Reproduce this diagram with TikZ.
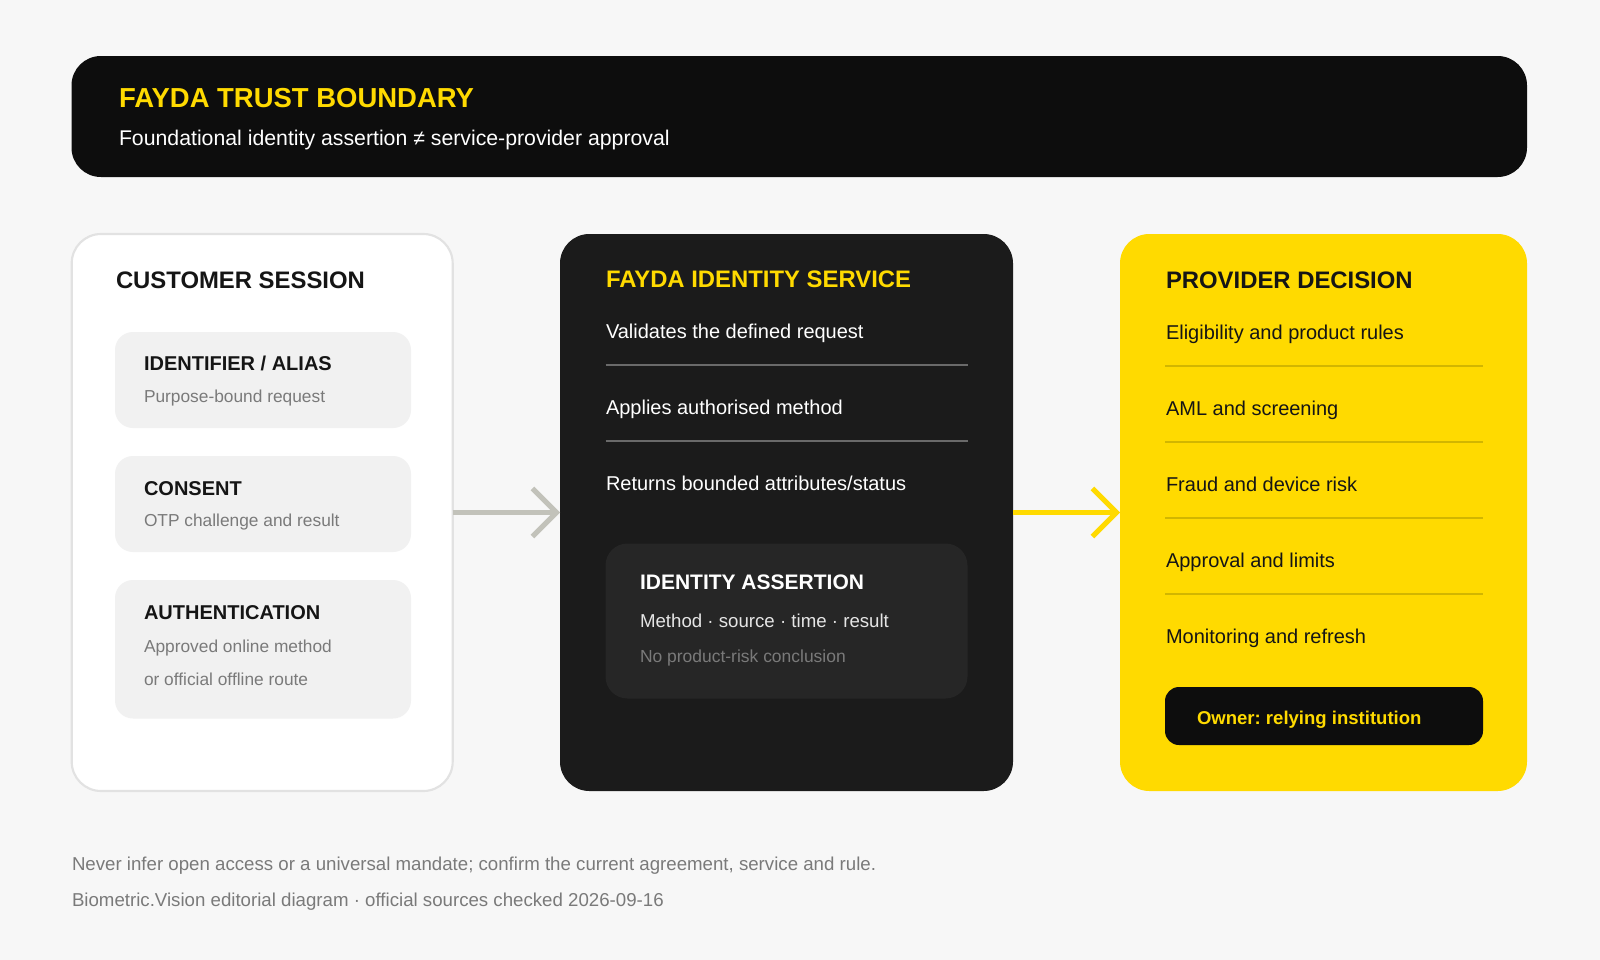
\documentclass[tikz,border=0pt]{standalone}
\usepackage{fontspec}
\setmainfont{Liberation Sans}
\usetikzlibrary{arrows.meta}
\frenchspacing

\definecolor{pagebg}{HTML}{F7F7F7}
\definecolor{inkblack}{HTML}{0D0D0D}
\definecolor{faydayellow}{HTML}{FFDA00}
\definecolor{servicedark}{HTML}{1B1B1B}
\definecolor{assertdark}{HTML}{262626}
\definecolor{stepgray}{HTML}{F1F1F1}
\definecolor{cardline}{HTML}{E2E2E2}
\definecolor{softtext}{HTML}{7A7A7A}
\definecolor{darktext}{HTML}{151515}
\definecolor{ruledark}{HTML}{6A6A6A}
\definecolor{ruleyellow}{HTML}{D2B600}
\definecolor{arrowgray}{HTML}{C2C2BA}

\newcommand{\pxu}{0.75pt}

\tikzset{
  box/.style={anchor=north west, inner sep=0pt, outer sep=0pt},
  txt/.style={anchor=base west, inner sep=0pt, outer sep=0pt},
  headline/.style={txt, font=\fontsize{20.6}{24}\selectfont\bfseries},
  cardtitle/.style={txt, font=\fontsize{17.9}{21}\selectfont\bfseries},
  itemtext/.style={txt, font=\fontsize{15}{18}\selectfont},
  steptitle/.style={txt, text=darktext, font=\fontsize{15}{18}\selectfont\bfseries},
  stepnote/.style={txt, text=softtext, font=\fontsize{13}{15}\selectfont},
  footnote/.style={txt, text=softtext, font=\fontsize{14}{16}\selectfont},
  stepbox/.style={box, fill=stepgray, rounded corners=13.5pt, minimum width=296*\pxu},
  flow/.style={line width=3.75pt, -{Straight Barb[length=18pt, width=36pt]}}
}

\begin{document}
\begin{tikzpicture}[x=\pxu, y=-\pxu]
        % page
        \fill[pagebg] (0,0) rectangle (1600,960);

        % trust boundary banner
        \node[box, fill=inkblack, rounded corners=22pt, minimum width=1455.5*\pxu, minimum height=121*\pxu] (banner) at (71.5,56) {};
        \node[headline, text=faydayellow] (bannertitle) at (119,107.7) {FAYDA TRUST BOUNDARY};
        \node[txt, text=white, font=\fontsize{15.95}{19}\selectfont] (bannersub) at (119,145.7) {Foundational identity assertion ≠ service-provider approval};

        % the three cards
        \node[box, fill=white, draw=cardline, line width=1.6pt, rounded corners=22pt, minimum width=381*\pxu, minimum height=557*\pxu] (customer) at (71.7,234) {};
        \node[box, fill=servicedark, rounded corners=22pt, minimum width=453*\pxu, minimum height=557*\pxu] (fayda) at (560,234) {};
        \node[box, fill=faydayellow, rounded corners=22pt, minimum width=407*\pxu, minimum height=557*\pxu] (provider) at (1120,234) {};

        % customer session
        \node[cardtitle, text=darktext] (customertitle) at (116,288) {CUSTOMER SESSION};
        \node[stepbox, minimum height=96*\pxu] (ident) at (115,332) {};
        \node[steptitle] (identtitle) at (144,370.7) {IDENTIFIER / ALIAS};
        \node[stepnote] (identnote) at (144,402.7) {Purpose-bound request};
        \node[stepbox, minimum height=96*\pxu] (consent) at (115,456) {};
        \node[steptitle] (consenttitle) at (144,495) {CONSENT};
        \node[stepnote] (consentnote) at (144,526.7) {OTP challenge and result};
        \node[stepbox, minimum height=138.5*\pxu] (auth) at (115,580) {};
        \node[steptitle] (authtitle) at (144,619) {AUTHENTICATION};
        \node[stepnote] (authnote) at (144,652.3) {Approved online method};
        \node[stepnote] (authnotetwo) at (144,685.7) {or official offline route};

        % fayda identity service
        \node[cardtitle, text=faydayellow] (faydatitle) at (606,287.7) {FAYDA IDENTITY SERVICE};
        \foreach \t [count=\i] in {Validates the defined request, Applies authorised method, Returns bounded attributes/status}
          \node[itemtext, text=white] (service\i) at (606,{338+76*(\i-1)}) {\t};
        \foreach \y in {365,441}
          \draw[ruledark, line width=0.9pt] (605.5,\y) -- (967.5,\y);
        \node[box, fill=assertdark, rounded corners=16.5pt, minimum width=362*\pxu, minimum height=155*\pxu] (assertion) at (605.5,543.5) {};
        \node[txt, text=white, font=\fontsize{15.75}{19}\selectfont\bfseries] (asserttitle) at (640,589.3) {IDENTITY ASSERTION};
        \node[txt, text=white!90!black, font=\fontsize{14}{17}\selectfont] (assertfields) at (640,627.7) {Method · source · time · result};
        \node[txt, text=softtext, font=\fontsize{13.1}{16}\selectfont] (assertnote) at (640,662.7) {No product-risk conclusion};

        % provider decision
        \node[cardtitle, text=darktext] (providertitle) at (1166,288) {PROVIDER DECISION};
        \foreach \t [count=\i] in {Eligibility and product rules, AML and screening, Fraud and device risk, Approval and limits, Monitoring and refresh}
          \node[itemtext, text=darktext] (decision\i) at (1166,{339+76*(\i-1)}) {\t};
        \foreach \y in {366,442,518,594}
          \draw[ruleyellow, line width=0.9pt] (1165,\y) -- (1483,\y);
        \node[box, fill=inkblack, rounded corners=10.5pt, minimum width=318*\pxu, minimum height=58*\pxu] (owner) at (1165,687) {};
        \node[txt, text=faydayellow, font=\fontsize{13.9}{17}\selectfont\bfseries] (ownerlabel) at (1197,724) {Owner: relying institution};

        % flow between cards
        \draw[flow, arrowgray] (customer.east) -- (fayda.west);
        \draw[flow, faydayellow] (fayda.east) -- (provider.west);

        % footer
        \node[footnote] (caveat) at (72,870.7) {Never infer open access or a universal mandate; confirm the current agreement, service and rule.};
        \node[footnote] (credit) at (72,906.7) {Biometric.Vision editorial diagram · official sources checked 2026-09-16};
\end{tikzpicture}
\end{document}
